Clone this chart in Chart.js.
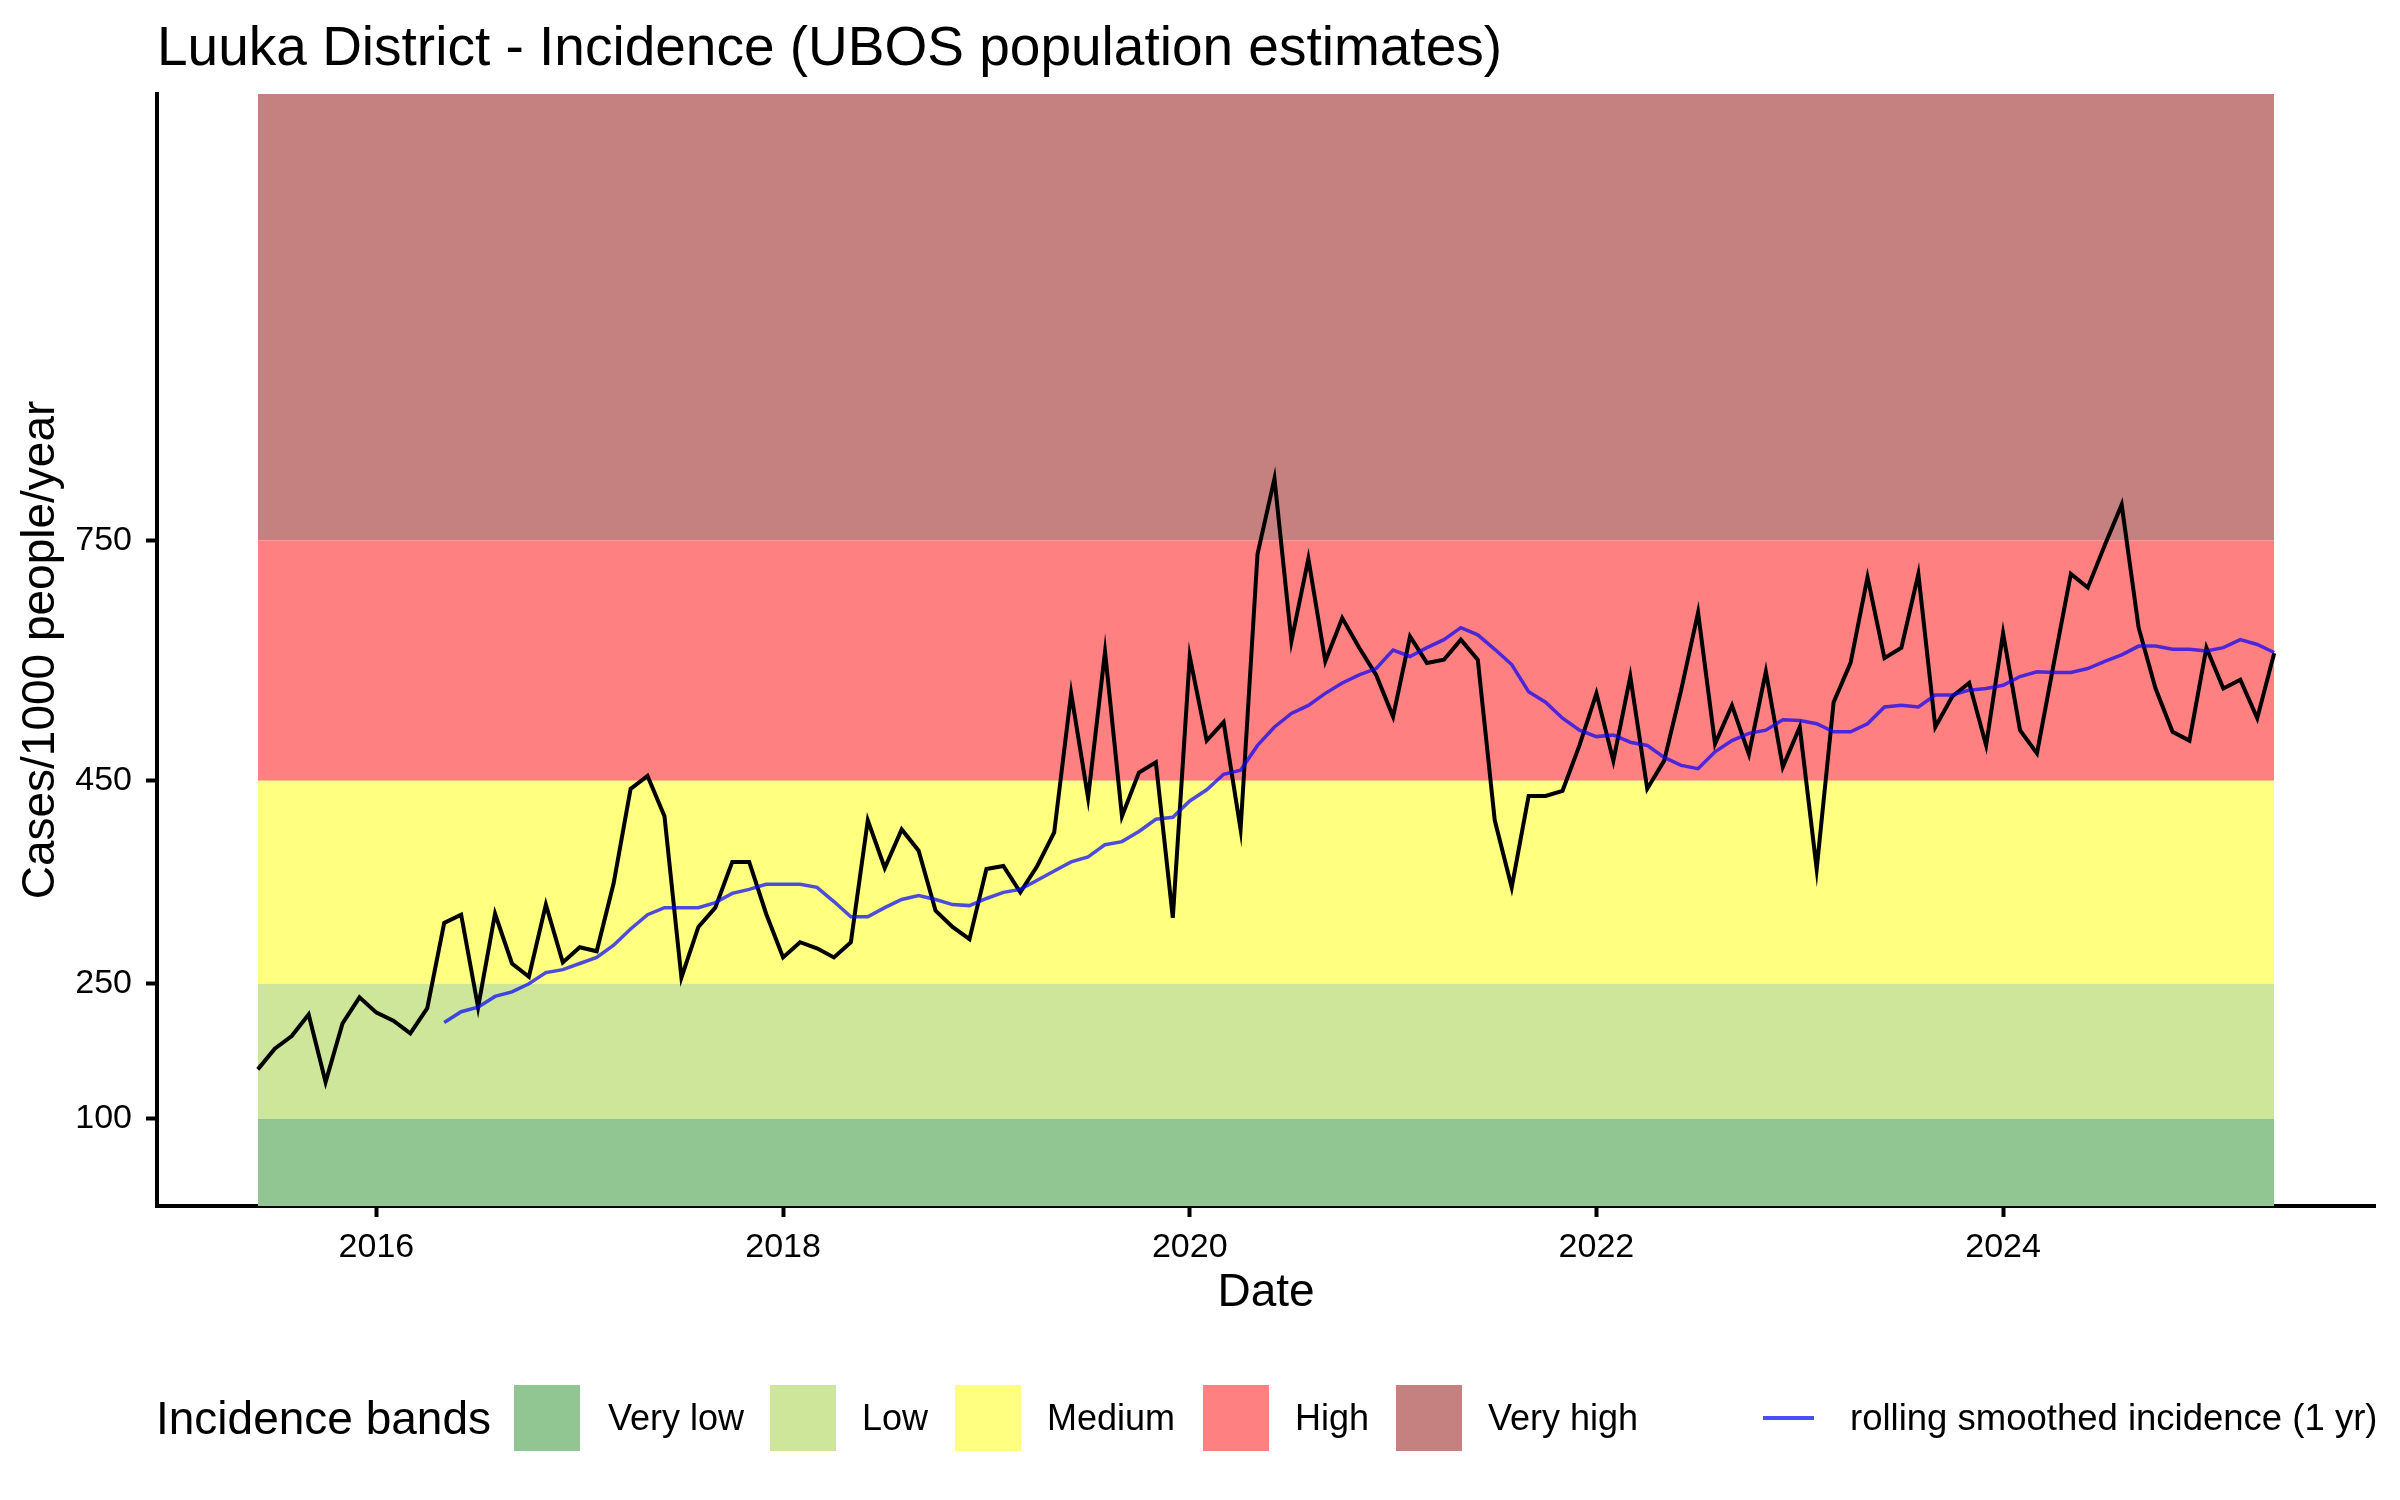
<!DOCTYPE html>
<html>
<head>
<meta charset="utf-8">
<script src="https://cdn.jsdelivr.net/npm/chart.js@4.4.1/dist/chart.umd.min.js"></script>
<style>
  body { margin: 0; background: #fff; font-family: 'Liberation Sans', Arial, sans-serif; }
  #wrap { position: relative; width: 2400px; height: 1500px; }
  .lg { position: absolute; top: 1385px; height: 66px; line-height: 66px; white-space: nowrap; color: #000; font-size: 36px; }
  .key { position: absolute; top: 1385px; width: 66px; height: 66px; }
</style>
</head>
<body>
<div id="wrap">
  <canvas id="chart" width="2400" height="1500"></canvas>
  <div id="legend"></div>
</div>
<script>
// monthly incidence, Jun 2015 .. May 2025
const startYear = 2015
const startMonth = 6
const incidence = [
  155, 178, 192, 216, 141, 206, 235, 218, 209, 195,
  223, 310, 318, 224, 319, 270, 257, 328, 271, 286,
  282, 349, 442, 456, 415, 256, 306, 325, 370, 370,
  319, 276, 291, 285, 276, 291, 411, 364, 402, 381,
  322, 306, 294, 363, 366, 340, 366, 399, 559, 433,
  611, 415, 460, 473, 315, 605, 500, 523, 402, 733,
  826, 624, 727, 599, 653, 616, 582, 530, 630, 597,
  601, 626, 601, 411, 345, 435, 435, 440, 494, 559,
  475, 580, 442, 475, 563, 660, 496, 544, 483, 586,
  467, 517, 363, 548, 597, 704, 603, 616, 708, 517,
  555, 572, 494, 634, 513, 484, 597, 708, 691, 744,
  794, 641, 565, 511, 500, 616, 565, 576, 528, 609
]

// 1 yr rolling smoothed incidence, starts at the 12th month (May 2016)
const rollingStart = 11
const rolling = [
  207, 219, 224, 236, 241, 250, 261, 264, 270, 276,
  288, 304, 318, 325, 325, 325, 330, 339, 343, 348,
  348, 348, 345, 331, 316, 316, 325, 333, 337, 333,
  328, 327, 334, 340, 343, 352, 361, 370, 375, 387,
  390, 400, 412, 414, 430, 441, 458, 463, 494, 517,
  534, 544, 559, 572, 582, 590, 613, 605, 616, 626,
  641, 632, 614, 595, 561, 548, 528, 513, 505, 507,
  498, 494, 479, 469, 465, 486, 500, 509, 513, 526,
  525, 521, 511, 511, 521, 542, 544, 542, 557, 557,
  563, 565, 569, 580, 586, 585, 585, 590, 599, 607,
  618, 618, 614, 614, 612, 616, 626, 620, 610
]

const bandNames = ['Very low', 'Low', 'Medium', 'High', 'Very high']
const bandLower = [0, 100, 250, 450, 750]
const bandUpper = [100, 250, 450, 750, 1300]
const bandColors = ['#91c591', '#cde699', '#ffff80', '#ff8080', '#c58080']

const yTicks = [100, 250, 450, 750]
const xTicks = [2016, 2018, 2020, 2022, 2024]

// decimal year for each month
const monthX = incidence.map((v, i) => {
  const m = startMonth - 1 + i
  return startYear + Math.floor(m / 12) + (m % 12) / 12
})

// y axis of the source is not evenly spaced between its breaks
const knotValues = [0, 100, 250, 450, 750, 1300]
const knotFrac = [0, 0.0783, 0.1998, 0.3825, 0.5986, 1]

function warp(v) {
  const n = knotValues.length
  let i = 0
  while (i < n - 2 && v > knotValues[i + 1]) i++
  const t = (v - knotValues[i]) / (knotValues[i + 1] - knotValues[i])
  return knotFrac[i] + t * (knotFrac[i + 1] - knotFrac[i])
}

function unwarp(f) {
  const n = knotFrac.length
  let i = 0
  while (i < n - 2 && f > knotFrac[i + 1]) i++
  const t = (f - knotFrac[i]) / (knotFrac[i + 1] - knotFrac[i])
  return knotValues[i] + t * (knotValues[i + 1] - knotValues[i])
}

class BandWarpScale extends Chart.LinearScale {
  getPixelForValue(value) {
    return this.getPixelForDecimal(warp(value))
  }
  getValueForPixel(pixel) {
    return unwarp(this.getDecimalForPixel(pixel))
  }
}
BandWarpScale.id = 'bandwarp'
BandWarpScale.defaults = Chart.LinearScale.defaults
Chart.register(BandWarpScale)

Chart.defaults.font.family = "'Liberation Sans', Arial, sans-serif"
Chart.defaults.color = '#000'

const xFirst = monthX[0]
const xLast = monthX[monthX.length - 1]
const xPad = (xLast - xFirst) * 0.05

const bandDatasets = bandNames.map((name, i) => ({
  label: name,
  data: [{ x: xFirst, y: bandUpper[i] }, { x: xLast, y: bandUpper[i] }],
  fill: { value: bandLower[i] },
  backgroundColor: bandColors[i],
  borderColor: 'transparent',
  borderWidth: 0,
  pointRadius: 0,
  pointHoverRadius: 0,
  order: 3
}))

const axisGrid = {
  drawOnChartArea: false,
  drawTicks: true,
  tickLength: 11,
  tickWidth: 4,
  tickColor: '#000'
}

new Chart(document.getElementById('chart').getContext('2d'), {
  type: 'line',
  data: {
    datasets: [
      ...bandDatasets,
      {
        label: 'incidence',
        data: incidence.map((v, i) => ({ x: monthX[i], y: v })),
        borderColor: '#000',
        borderWidth: 4,
        pointRadius: 0,
        pointHoverRadius: 0,
        fill: false,
        order: 2
      },
      {
        label: 'rolling smoothed incidence (1 yr)',
        data: rolling.map((v, i) => ({ x: monthX[i + rollingStart], y: v })),
        borderColor: 'rgba(0, 0, 255, 0.7)',
        borderWidth: 3.5,
        pointRadius: 0,
        pointHoverRadius: 0,
        fill: false,
        order: 1
      }
    ]
  },
  options: {
    responsive: false,
    devicePixelRatio: 1,
    animation: false,
    layout: { padding: { top: 0, right: 25, bottom: 170, left: 0 } },
    plugins: {
      legend: { display: false },
      tooltip: { enabled: false },
      title: {
        display: true,
        text: 'Luuka District - Incidence (UBOS population estimates)',
        align: 'start',
        fullSize: false,
        color: '#000',
        font: { size: 55, weight: 'normal' },
        padding: { top: 17, bottom: 11 }
      }
    },
    scales: {
      x: {
        type: 'linear',
        min: xFirst - xPad,
        max: xLast + xPad,
        afterBuildTicks: axis => {
          axis.ticks = xTicks.map(v => ({ value: v }))
        },
        afterFit: axis => {
          axis.height = 124
        },
        ticks: {
          callback: v => String(v),
          color: '#000',
          font: { size: 34 },
          padding: 10,
          maxRotation: 0,
          autoSkip: false
        },
        grid: axisGrid,
        border: { color: '#000', width: 4 },
        title: {
          display: true,
          text: 'Date',
          color: '#000',
          font: { size: 46 },
          padding: { top: 0, bottom: 9 }
        }
      },
      y: {
        type: 'bandwarp',
        min: 0,
        max: 1300,
        afterBuildTicks: axis => {
          axis.ticks = yTicks.map(v => ({ value: v }))
        },
        afterFit: axis => {
          axis.width = 157
        },
        ticks: {
          callback: v => String(v),
          color: '#000',
          font: { size: 34 },
          padding: 14,
          autoSkip: false
        },
        grid: axisGrid,
        border: { color: '#000', width: 4 },
        title: {
          display: true,
          text: 'Cases/1000 people/year',
          color: '#000',
          font: { size: 46 },
          padding: { top: 14, bottom: 0 }
        }
      }
    }
  }
})

// legend below the plot, laid out like the source
const legend = document.getElementById('legend')
function addText(text, left, size) {
  const el = document.createElement('div')
  el.className = 'lg'
  el.style.left = left + 'px'
  if (size) el.style.fontSize = size + 'px'
  el.textContent = text
  legend.appendChild(el)
}
addText('Incidence bands', 156, 46)
const keyLeft = [514, 770, 955, 1203, 1396]
const labelLeft = [608, 862, 1047, 1295, 1488]
bandNames.forEach((name, i) => {
  const key = document.createElement('div')
  key.className = 'key'
  key.style.left = keyLeft[i] + 'px'
  key.style.background = bandColors[i]
  legend.appendChild(key)
  addText(name, labelLeft[i])
})
const lineKey = document.createElement('div')
lineKey.style.cssText = 'position:absolute;left:1763px;top:1416px;width:51px;height:4px;background:rgba(0,0,255,0.7)'
legend.appendChild(lineKey)
addText('rolling smoothed incidence (1 yr)', 1850, 36.5)
</script>
</body>
</html>
